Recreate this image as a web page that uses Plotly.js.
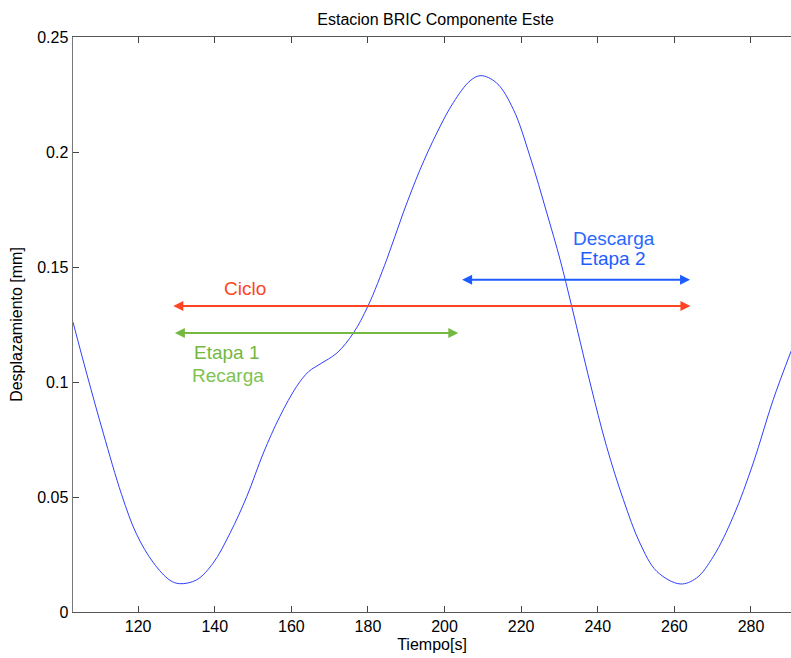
<!DOCTYPE html>
<html>
<head>
<meta charset="utf-8">
<script src="https://cdn.plot.ly/plotly-3.0.1.min.js"></script>
<style>
  html, body { margin: 0; padding: 0; background: #fff; overflow: hidden; }
  #chart { width: 791px; height: 658px; }
</style>
</head>
<body>
<div id="chart"></div>
<script>
// East component displacement at station BRIC
const tiempo = [103.0, 106.6, 110.9, 115.7, 119.6, 124.0, 128.3, 130.9, 135.3, 139.6,
                144.0, 148.4, 152.7, 157.0, 161.4, 164.5, 167.5, 171.9, 176.2, 180.0,
                184.9, 189.2, 193.6, 198.0, 202.3, 206.7, 209.5, 213.6, 218.0, 222.3,
                226.7, 230.2, 233.2, 238.0, 242.3, 246.7, 251.0, 255.4, 261.5, 265.8,
                270.2, 275.4, 280.6, 285.8, 290.5];
const desplazamiento = [0.1260, 0.1035, 0.0778, 0.0510, 0.0338, 0.0214, 0.0138, 0.0123, 0.0140, 0.0213,
                        0.0343, 0.0503, 0.0691, 0.0850, 0.0981, 0.1045, 0.1078, 0.1126, 0.1213, 0.1330,
                        0.1532, 0.1735, 0.1923, 0.2083, 0.2215, 0.2310, 0.2332, 0.2300, 0.2184, 0.1981,
                        0.1735, 0.1530, 0.1329, 0.0996, 0.0720, 0.0488, 0.0300, 0.0177, 0.0122, 0.0148,
                        0.0242, 0.0416, 0.0648, 0.0923, 0.1135];

// Axis ticks
const xTicks = [120, 140, 160, 180, 200, 220, 240, 260, 280];
const yTicks = [0, 0.05, 0.1, 0.15, 0.2, 0.25];
const yTickText = ['0', '0.05', '0.1', '0.15', '0.2', '0.25'];

// Interval arrows: [start, end, level]
const ciclo = [128.8, 264.2, 0.1330];
const etapa1 = [129.2, 203.6, 0.1213];
const etapa2 = [204.2, 264.1, 0.1445];

const FONT = 'Liberation Sans, Arial, Helvetica, sans-serif';
const RED = '#ff4424';
const GREEN = '#74b842';
const BLUE = '#1c5cff';

function arrow(seg, color) {
  return {
    x: seg[1], y: seg[2], ax: seg[0], ay: seg[2],
    xref: 'x', yref: 'y', axref: 'x', ayref: 'y',
    text: '', showarrow: true, arrowside: 'end+start',
    arrowhead: 2, arrowsize: 1, arrowwidth: 2, arrowcolor: color,
    standoff: 0, startstandoff: 0
  };
}
function label(text, x, y, color) {
  return {
    x: x, y: y, xref: 'x', yref: 'y', text: text, showarrow: false,
    xanchor: 'center', yanchor: 'middle',
    font: {family: FONT, size: 19, color: color}
  };
}

const trace = {
  x: tiempo, y: desplazamiento, type: 'scatter', mode: 'lines',
  line: {color: '#2f3fff', width: 1, shape: 'spline', smoothing: 1},
  hoverinfo: 'skip'
};

const layout = {
  width: 791, height: 658,
  margin: {l: 73, r: 0, t: 37, b: 46},
  paper_bgcolor: '#fff', plot_bgcolor: '#fff',
  showlegend: false,
  font: {family: FONT, size: 16, color: '#000'},
  title: {
    text: 'Estacion BRIC Componente Este',
    font: {family: FONT, size: 16, color: '#000'},
    xref: 'paper', x: 0.505, xanchor: 'center',
    yref: 'container', y: 1 - 19 / 658, yanchor: 'middle'
  },
  xaxis: {
    range: [103.0, 290.45], tickvals: xTicks, ticktext: xTicks.map(String),
    ticks: 'inside', ticklen: 6, tickcolor: '#444', tickwidth: 1,
    showline: true, linecolor: '#555', linewidth: 1, mirror: 'ticks',
    showgrid: false, zeroline: false,
    tickfont: {family: FONT, size: 16, color: '#000'},
    title: {text: 'Tiempo[s]', font: {family: FONT, size: 16, color: '#000'}, standoff: 4}
  },
  yaxis: {
    range: [0, 0.25], tickvals: yTicks, ticktext: yTickText,
    ticks: 'inside', ticklen: 6, tickcolor: '#444', tickwidth: 1,
    showline: true, linecolor: '#777', linewidth: 1.5, mirror: false,
    showgrid: false, zeroline: false,
    tickfont: {family: FONT, size: 16, color: '#000'},
    title: {text: 'Desplazamiento [mm]', font: {family: FONT, size: 16, color: '#000'}, standoff: 10}
  },
  annotations: [
    arrow(ciclo, RED),
    arrow(etapa1, GREEN),
    arrow(etapa2, BLUE),
    label('Ciclo', 147.9, 0.1406, RED),
    label('Etapa 1', 143.3, 0.1129, GREEN),
    label('Recarga', 143.5, 0.1027, '#80c250'),
    label('Descarga', 244.3, 0.1626, '#2a68ff'),
    label('Etapa 2', 243.9, 0.1535, BLUE)
  ]
};

Plotly.newPlot('chart', [trace], layout, {displayModeBar: false, staticPlot: true});
</script>
</body>
</html>
